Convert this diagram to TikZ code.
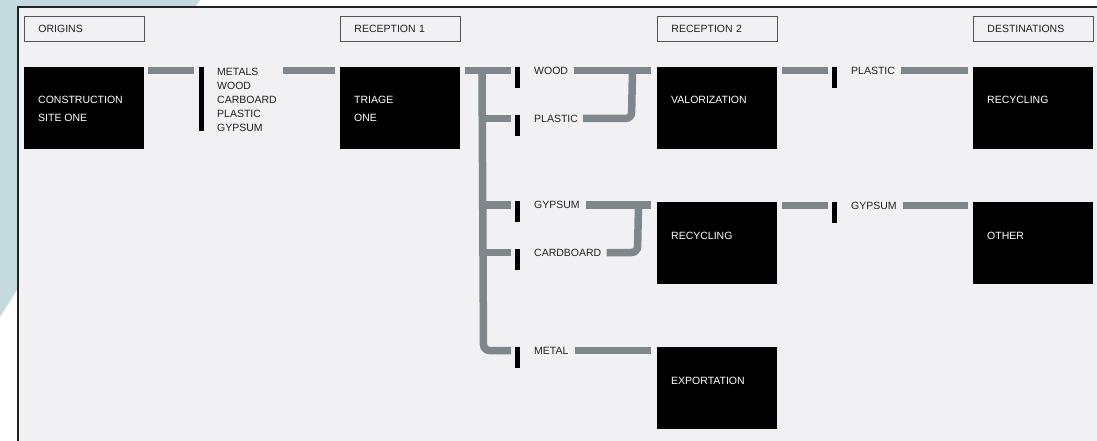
\documentclass[tikz,border=0pt]{standalone}
\usepackage{fontspec}
\setmainfont{Liberation Sans}
\usetikzlibrary{calc}
\definecolor{bgblue}{HTML}{C5DADE}
\definecolor{framebg}{HTML}{F1F1F3}
\definecolor{framelin}{HTML}{222222}
\definecolor{barcol}{HTML}{7D878C}
\definecolor{hdrline}{HTML}{555555}
\definecolor{txtcol}{HTML}{222222}
\newcommand\dgmfont{\fontsize{10.5}{14}\selectfont}
\begin{document}
\begin{tikzpicture}[x=1pt,y=-1pt,
  bar/.style={draw=barcol, line width=7.5pt},
  tickbox/.style={fill=black, inner sep=0pt, minimum width=5pt, minimum height=21pt, anchor=north west},
  bbox/.style={fill=black, inner sep=0pt, minimum width=120pt, minimum height=82pt, anchor=north west},
  hbox/.style={draw=hdrline, line width=0.9pt, fill=framebg, inner xsep=14pt, inner ysep=0pt,
    minimum height=25pt, text width=92pt, align=left, text height=7.5pt, text depth=0pt,
    anchor=north west, font=\dgmfont, text=txtcol},
  lbl/.style={anchor=base west, inner sep=0pt, font=\dgmfont, text=txtcol},
  btxt/.style={anchor=base west, inner sep=0pt, font=\dgmfont, text=white}]
\useasboundingbox (0,0) rectangle (1097,441);
\begin{scope}
\clip (0,0) rectangle (1097,441);
\fill[white] (0,0) rectangle (1097,441);
\fill[bgblue] (0,0) -- (200,0) -- (0,317) -- cycle;
\filldraw[fill=framebg, draw=framelin, line width=1.8pt] (18,7) rectangle (1120,470);
\end{scope}

% headers
\node[hbox] (h1) at (24,16) {ORIGINS};
\node[hbox] (h2) at (340,16) {RECEPTION 1};
\node[hbox] (h3) at (657,16) {RECEPTION 2};
\node[hbox] (h4) at (973,16) {DESTINATIONS};

% black boxes
\node[bbox] (cs) at (24,67) {};
\node[bbox] (tri) at (340,67) {};
\node[bbox] (val) at (657,67) {};
\node[bbox] (rec) at (657,202) {};
\node[bbox] (exp) at (657,347) {};
\node[bbox] (drec) at (973,67) {};
\node[bbox] (oth) at (973,202) {};

\node[btxt] (cs1) at ([shift={(14,37)}]cs.north west) {CONSTRUCTION};
\node[btxt] (cs2) at ([shift={(14,54.5)}]cs.north west) {SITE ONE};
\node[btxt] (tri1) at ([shift={(14,37)}]tri.north west) {TRIAGE};
\node[btxt] (tri2) at ([shift={(14,54.5)}]tri.north west) {ONE};
\node[btxt] (valt) at ([shift={(14,37)}]val.north west) {VALORIZATION};
\node[btxt] (rect) at ([shift={(14,37)}]rec.north west) {RECYCLING};
\node[btxt] (expt) at ([shift={(14,37)}]exp.north west) {EXPORTATION};
\node[btxt] (drect) at ([shift={(14,37)}]drec.north west) {RECYCLING};
\node[btxt] (otht) at ([shift={(14,37)}]oth.north west) {OTHER};

% ticks
\node[tickbox, minimum width=4.5pt, minimum height=64pt] (t0) at (199,67) {};
\node[tickbox] (tw) at (515,67) {};
\node[tickbox] (tp) at (515,115) {};
\node[tickbox] (tg) at (515,201) {};
\node[tickbox] (tc) at (515,249) {};
\node[tickbox] (tm) at (515,347) {};
\node[tickbox] (tr1) at (832,67) {};
\node[tickbox] (tr2) at (832,202) {};

% labels
\node[lbl, anchor=north west, align=left] (list) at (217,67.5) {METALS\\WOOD\\CARBOARD\\PLASTIC\\GYPSUM};
\node[lbl] (lw) at (534,74.5) {WOOD};
\node[lbl] (lp) at (534,122.5) {PLASTIC};
\node[lbl] (lg) at (534,208.5) {GYPSUM};
\node[lbl] (lc) at (534,256.5) {CARDBOARD};
\node[lbl] (lm) at (534,354.5) {METAL};
\node[lbl] (rp) at (851,74.5) {PLASTIC};
\node[lbl] (rg) at (851,209.5) {GYPSUM};

% connectors
\draw[bar] ([shift={(4,3.5)}]cs.north east) -- ([shift={(-5,3.5)}]t0.north west);
\draw[bar] (list.north east |- 0,70.5) ++(6,0) -- ([shift={(-5,3.5)}]tri.north west);
\draw[bar] ([shift={(5,3.5)}]tri.north east) -- ([shift={(-4,3.5)}]tw.north west);
\draw[bar, rounded corners=6pt] (482,70.5) -- (483.5,350.5) -- ([shift={(-4,3.5)}]tm.north west);
\draw[bar] (483,118.5) -- ([shift={(-4,3.5)}]tp.north west);
\draw[bar] (483.2,205) -- ([shift={(-4,4)}]tg.north west);
\draw[bar] (483.4,252.5) -- ([shift={(-4,3.5)}]tc.north west);

\draw[bar] ($(lw.base east)+(6,-4)$) -- ([shift={(-6,3.5)}]val.north west);
\draw[bar, rounded corners=6pt] ($(lp.base east)+(5,-4)$) -- (631.5,118.5) -- (632.5,70.5);
\draw[bar] ($(lg.base east)+(6,-3.5)$) -- ([shift={(-6,3)}]rec.north west);
\draw[bar, rounded corners=6pt] ($(lc.base east)+(5,-4)$) -- (637.5,252.5) -- (638.5,205);
\draw[bar] ($(lm.base east)+(6,-4)$) -- ([shift={(-6,3.5)}]exp.north west);

\draw[bar] ([shift={(5,3.5)}]val.north east) -- ([shift={(-4,3.5)}]tr1.north west);
\draw[bar] ($(rp.base east)+(6,-4)$) -- ([shift={(-5,3.5)}]drec.north west);
\draw[bar] ([shift={(5,3.5)}]rec.north east) -- ([shift={(-4,3.5)}]tr2.north west);
\draw[bar] ($(rg.base east)+(6,-4)$) -- ([shift={(-5,3.5)}]oth.north west);
\end{tikzpicture}
\end{document}
